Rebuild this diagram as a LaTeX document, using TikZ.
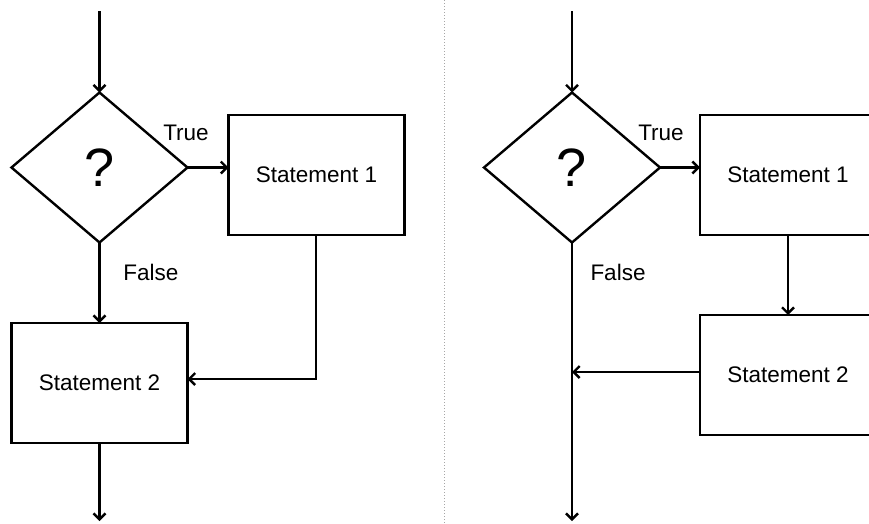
\documentclass[tikz,border=0pt]{standalone}
\usepackage{fontspec}
\setmainfont{Liberation Sans}
\usetikzlibrary{shapes.geometric,arrows.meta}
\begin{document}
\begin{tikzpicture}[x=1pt,y=-1pt,
  line width=2.4pt,
  every node/.style={font=\fontsize{22.5}{26}\selectfont},
  stbox/.style={draw,rectangle,minimum width=176pt,minimum height=120pt,inner sep=0pt,outer sep=0pt},
  decide/.style={draw,diamond,minimum width=176pt,minimum height=150pt,inner sep=0pt,outer sep=0pt,font=\fontsize{54}{60}\selectfont},
  lbl/.style={inner sep=0pt},
  flow/.style={-{Straight Barb[length=6pt,width=12pt]}}]
\useasboundingbox (0,0) rectangle (869,523);
\clip (0,0) rectangle (869,523);
\fill[white] (0,0) rectangle (869,523);
% divider
\draw[gray!70,line width=1pt,dotted] (444,0) -- (444,523);
% ---------- left diagram ----------
\coordinate (ltop) at (99.5,11);
\coordinate (lbot) at (99.5,521);
\node[decide] (d1) at (99.5,167.5) {?};
\node[stbox] (s1) at (316.5,175) {Statement 1};
\node[stbox] (s2) at (99.5,383) {Statement 2};
\node[lbl] (t1) at (186,133) {True};
\node[lbl] (f1) at (151,272) {False};
\coordinate (lj) at (316,379);
\draw[flow] (ltop) -- (d1.north);
\draw[flow] (d1.east) -- (d1.east -| s1.west);
\draw[flow] (d1.south) -- (s2.north);
\draw[flow] (s1.south -| lj) -- (lj) -- (lj -| s2.east);
\draw[flow] (s2.south) -- (lbot);
% ---------- right diagram ----------
\coordinate (rtop) at (572,11);
\coordinate (rbot) at (572,521);
\node[decide] (d2) at (572,167.5) {?};
\node[stbox] (s3) at (788,175) {Statement 1};
\node[stbox] (s4) at (788,375) {Statement 2};
\node[lbl] (t2) at (661,133) {True};
\node[lbl] (f2) at (618,272) {False};
\coordinate (rj) at (572,372);
\draw[flow] (rtop) -- (d2.north);
\draw[flow] (d2.east) -- (d2.east -| s3.west);
\draw[flow] (s3.south) -- (s4.north);
\draw[flow] (d2.south) -- (rbot);
\draw[flow] (rj -| s4.west) -- (rj);
\end{tikzpicture}
\end{document}
